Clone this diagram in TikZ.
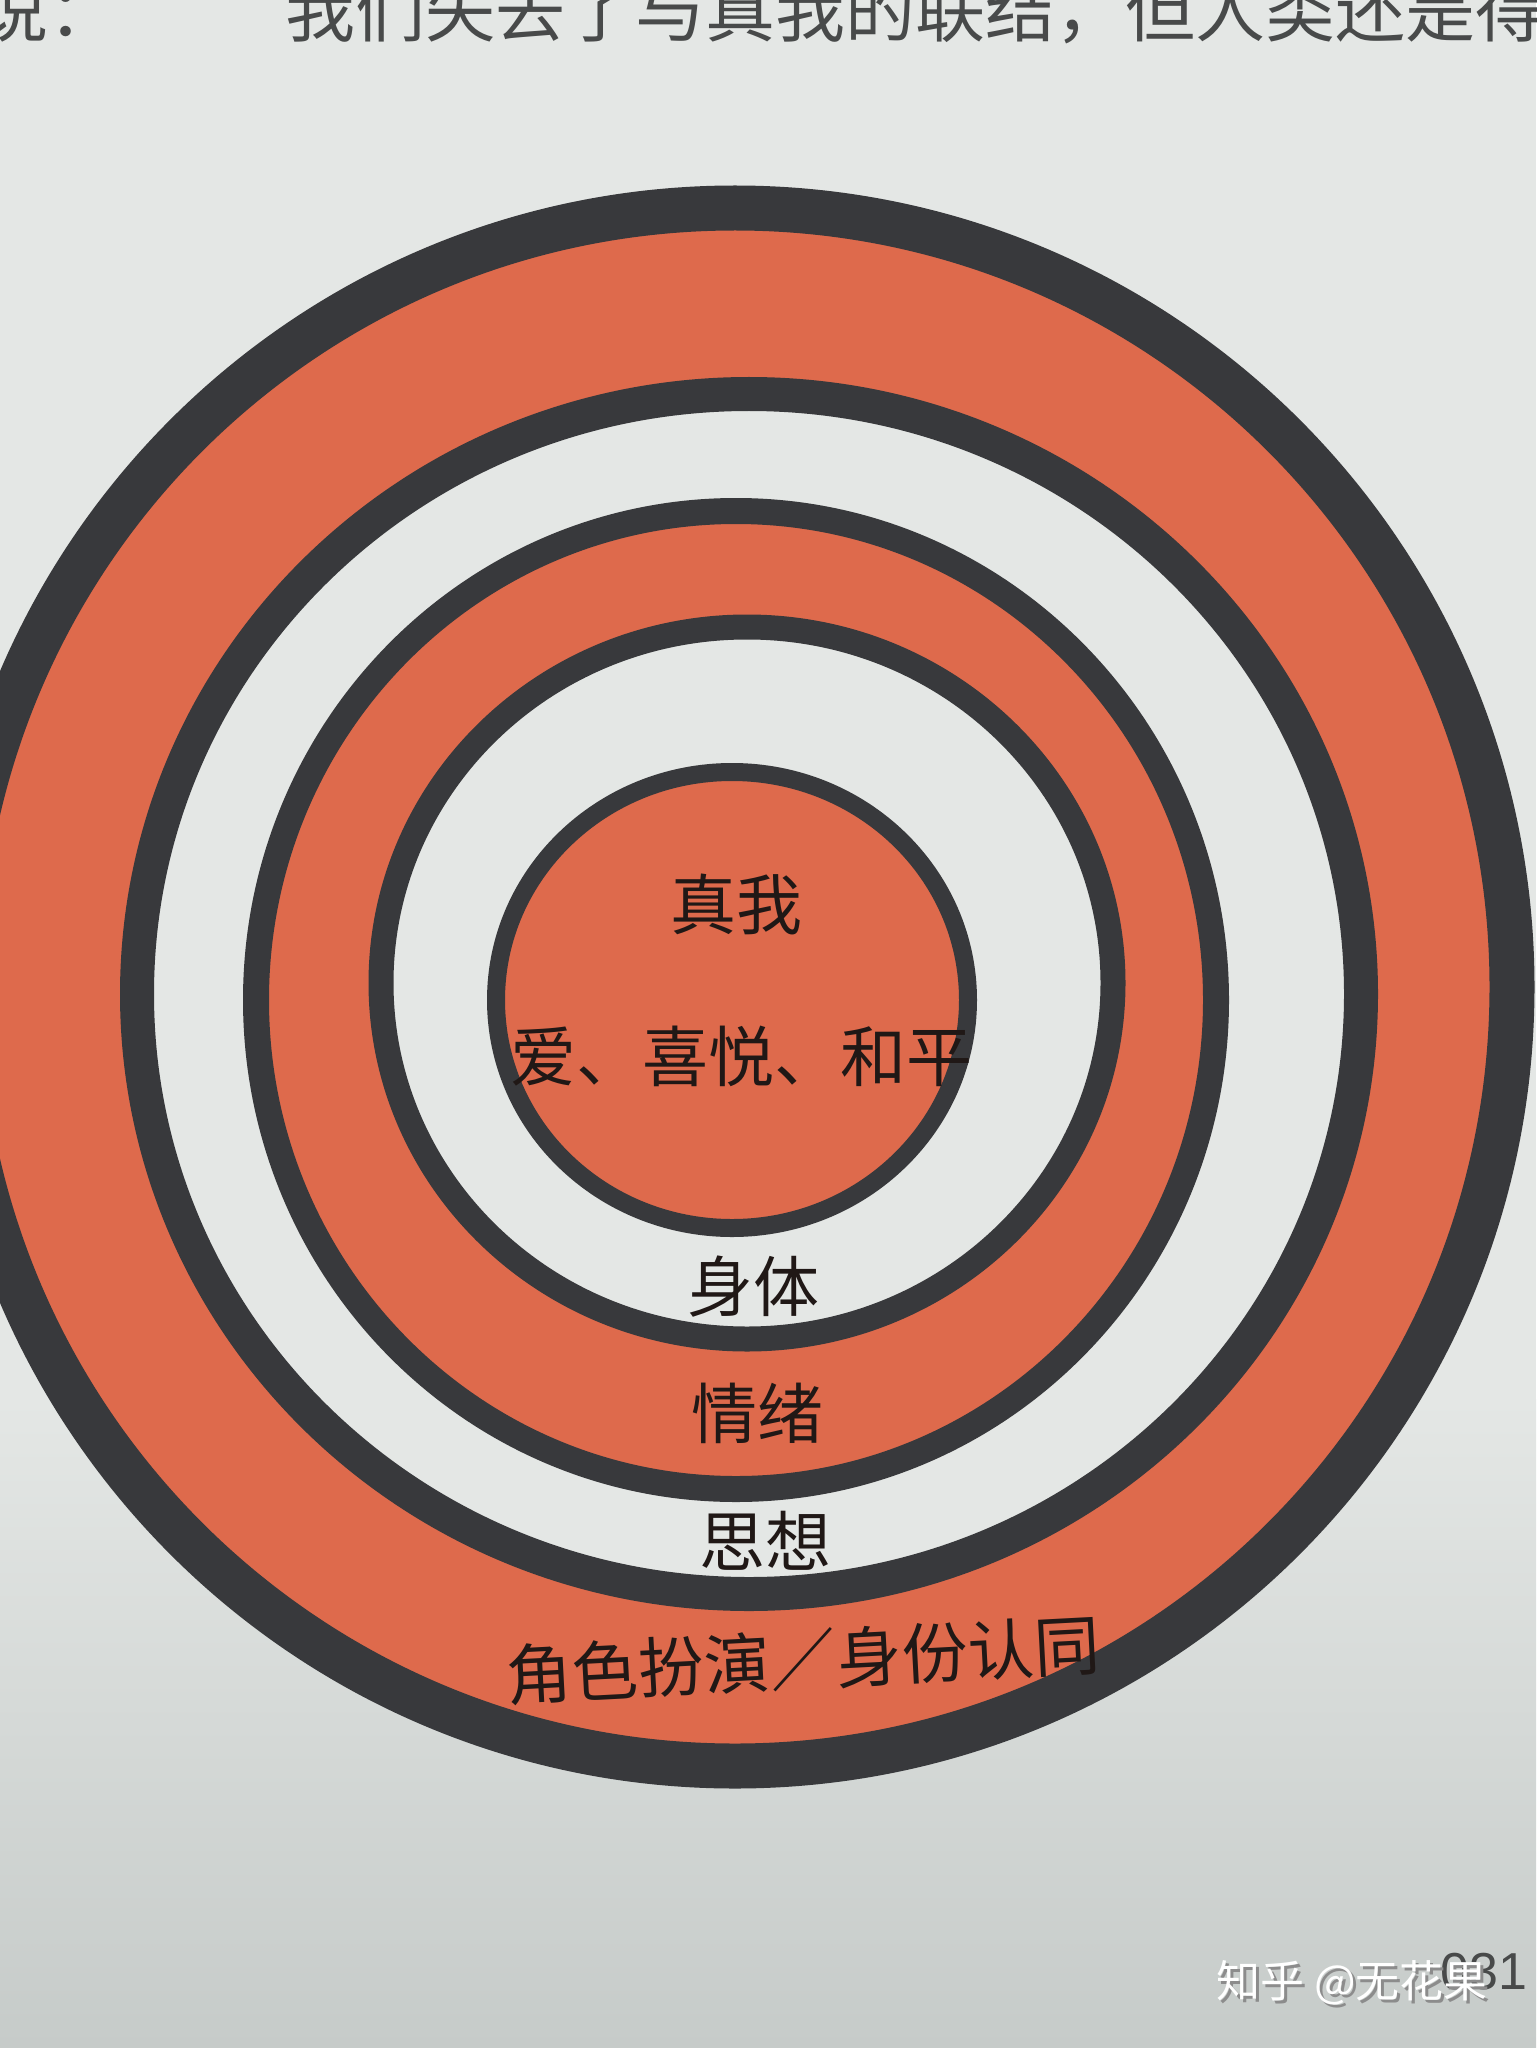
\documentclass[tikz,border=0pt]{standalone}
\usepackage{fontspec}
\newfontfamily\cjk{Noto Sans CJK SC}
\newfontfamily\pagefont{Liberation Sans}
\definecolor{paper}{RGB}{228,231,229}
\definecolor{paperdk}{RGB}{198,203,201}
\definecolor{ochre}{RGB}{222,106,76}
\definecolor{inkline}{RGB}{56,57,60}
\definecolor{inktext}{RGB}{32,24,22}
\definecolor{printgray}{RGB}{72,74,74}
\tikzset{
  ring/.style={draw=inkline},
  ringtext/.style={font=\cjk\fontsize{33pt}{38pt}\selectfont, text=inktext, inner sep=0pt},
  toptext/.style={font=\cjk\fontsize{35pt}{40pt}\selectfont, text=printgray, inner sep=0pt},
  wmtext/.style={font=\cjk\fontsize{22pt}{26pt}\selectfont, inner sep=0pt}
}
\begin{document}
\begin{tikzpicture}[x=0.5pt,y=-0.5pt]
      \useasboundingbox (0,0) rectangle (1536,2048);
      % page
      \fill[paper] (0,0) rectangle (1536,1400);
      \shade[top color=paper, bottom color=paperdk] (0,1399) rectangle (1536,2048);
      % bands, outside in
      \fill[ochre] (735,987) ellipse [x radius=777, y radius=779];
      \fill[paper] (749,994) ellipse [x radius=612, y radius=600];
      \fill[ochre] (736,1000) ellipse [x radius=480, y radius=489];
      \fill[paper] (747,983) ellipse [x radius=366, y radius=356];
      \fill[ochre] (732,1000) ellipse [x radius=236, y radius=228];
      \begin{scope}[ring]
        \draw[line width=22.5pt] (735,987) ellipse [x radius=777, y radius=779];
        \draw[line width=17pt] (749,994) ellipse [x radius=612, y radius=600];
        \draw[line width=13pt] (736,1000) ellipse [x radius=480, y radius=489];
        \draw[line width=12.5pt] (747,983) ellipse [x radius=366, y radius=356];
        \draw[line width=9pt] (732,1000) ellipse [x radius=236, y radius=228];
      \end{scope}
      % labels
      \node[ringtext] (self) at (736,904) {真我};
      \node[ringtext] (virtues) at (741,1056) {爱、喜悦、和平};
      \node[ringtext] (body) at (753,1287) {身体};
      \node[ringtext] (emotion) at (757,1413) {情绪};
      \node[ringtext] (thought) at (765,1541) {思想};
      \node[ringtext, rotate=3] (role) at (803,1660) {角色扮演／身份认同};
      % cut-off line of the page above
      \node[toptext, anchor=base west] (lead) at (-22,37) {说：};
      \node[toptext, anchor=base west] (quote) at (285,37) {我们失去了与真我的联结，但人类还是得};
      % folio and watermark
      \node[font=\pagefont\fontsize{26pt}{30pt}\selectfont, text=printgray, anchor=east, inner sep=0pt] (folio) at (1528,1972) {031};
      \node[wmtext, text=black!45] (wmshade) at (1355,1986) {知乎 @无花果};
      \node[wmtext, text=white] (wm) at (1352,1983) {知乎 @无花果};
    \end{tikzpicture}
\end{document}
